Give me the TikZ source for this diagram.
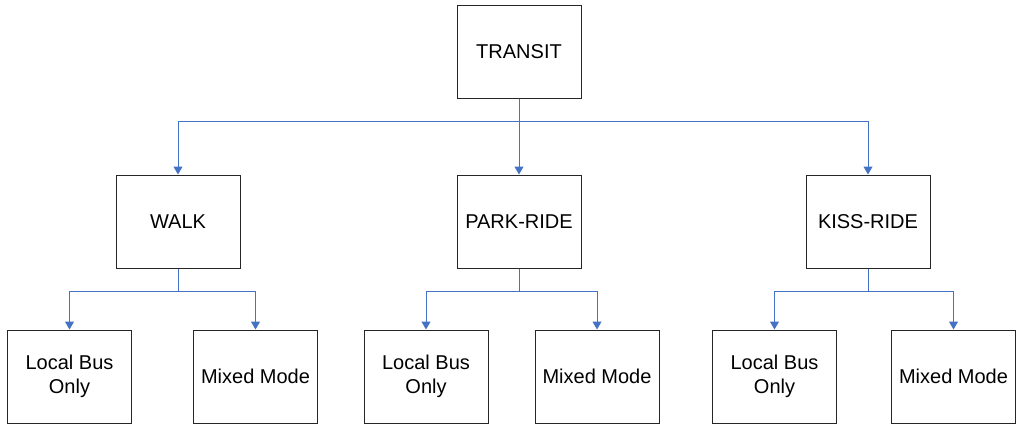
\documentclass[tikz,border=0pt]{standalone}
\usepackage{fontspec}
\setmainfont{Liberation Sans}
\usetikzlibrary{arrows.meta}
\definecolor{conn}{HTML}{4472C4}
\tikzset{
  box/.style={draw=black!85, line width=1pt, minimum width=124pt, minimum height=93pt, inner sep=0pt, align=center, font=\fontsize{20}{24}\selectfont, text=black},
  link/.style={draw=conn, line width=1pt, -{Triangle[length=8pt,width=9pt]}}
}
\begin{document}
\begin{tikzpicture}[x=1pt,y=-1pt]
\useasboundingbox (0,0) rectangle (1016,424);
\node[box] (transit) at (519,51.5) {TRANSIT};
\node[box] (walk) at (178,221.5) {WALK};
\node[box] (park) at (519,221.5) {PARK-RIDE};
\node[box] (kiss) at (868,221.5) {KISS-RIDE};
\node[box] (w1) at (69.5,376.5) {Local Bus\\Only};
\node[box] (w2) at (255.5,376.5) {Mixed Mode};
\node[box] (p1) at (426,376.5) {Local Bus\\Only};
\node[box] (p2) at (597,376.5) {Mixed Mode};
\node[box] (k1) at (774.5,376.5) {Local Bus\\Only};
\node[box] (k2) at (953.5,376.5) {Mixed Mode};
\coordinate (tb) at (519,121);
\draw[link] (transit.south) -- (tb) -| (walk.north);
\draw[link] (transit.south) -- (park.north);
\draw[link] (tb) -| (kiss.north);
\foreach \p/\a/\b in {walk/w1/w2, park/p1/p2, kiss/k1/k2}{
  \draw[link] (\p.south) -- ++(0,23) -| (\a.north);
  \draw[link] (\p.south) -- ++(0,23) -| (\b.north);
}
\end{tikzpicture}
\end{document}
